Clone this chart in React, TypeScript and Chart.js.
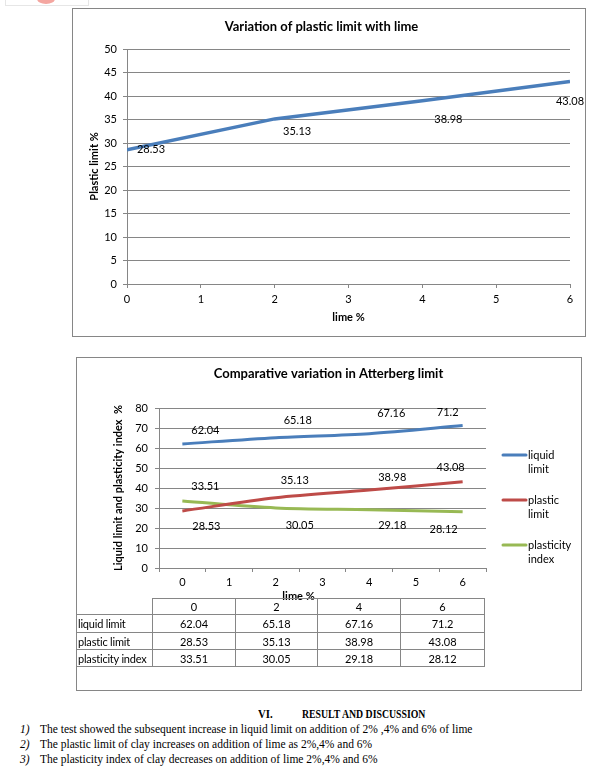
import React, { useEffect, useRef } from 'react';
import { Chart, registerables } from 'chart.js';
Chart.register(...registerables);

// ---------- data ----------
const limeLevels = [0, 2, 4, 6];
const plasticLimit = [28.53, 35.13, 38.98, 43.08];
const liquidLimit = [62.04, 65.18, 67.16, 71.2];
const plasticityIndex = [33.51, 30.05, 29.18, 28.12];
const limeCategories = ['0', '1', '2', '3', '4', '5', '6'];
const seriesNames = ['liquid limit', 'plastic limit', 'plasticity index'];

const chart1Title = 'Variation of plastic limit with lime';
const chart1YTitle = 'Plastic limit %';
const chart2Title = 'Comparative variation in Atterberg limit';
const chart2YTitle = 'Liquid limit and plasticity index  %';
const xTitle = 'lime %';

const discussionHeading = ['VI.', 'RESULT AND DISCUSSION'];
const discussionItems = [
  'The test showed the subsequent increase in liquid limit on addition of 2% ,4% and 6% of lime',
  'The plastic limit of clay increases on addition of lime as 2%,4% and 6%',
  'The plasticity index of clay decreases on addition of lime 2%,4% and 6%',
];

// ---------- styles ----------
const FONT = 'Lato, "Open Sans", sans-serif';
const GRID = '#868686';
const BLUE = '#4A7EBB';
const RED = '#BE4B48';
const GREEN = '#98B954';

const pointLabelPlugin = {
  id: 'pointLabels',
  afterDatasetsDraw(chart: any, _args: any, opts: any) {
    const ctx = chart.ctx;
    ctx.save();
    ctx.font = `11px ${FONT}`;
    ctx.fillStyle = '#000';
    ctx.textAlign = 'center';
    ctx.textBaseline = 'middle';
    chart.data.datasets.forEach((ds: any, di: number) => {
      const meta = chart.getDatasetMeta(di);
      const offs = (opts.offsets || [])[di] || [];
      meta.data.forEach((pt: any, i: number) => {
        const raw = ds.data[i];
        const val = typeof raw === 'object' ? raw.y : raw;
        const [dx, dy] = offs[i] || [0, 0];
        ctx.fillText(String(val), pt.x + dx, pt.y + dy);
      });
    });
    ctx.restore();
  },
};

const sideLegendPlugin = {
  id: 'sideLegend',
  afterDraw(chart: any, _args: any, opts: any) {
    if (!opts || !opts.enabled) return;
    const { ctx, chartArea } = chart;
    ctx.save();
    ctx.font = `11px ${FONT}`;
    ctx.textAlign = 'left';
    ctx.textBaseline = 'middle';
    chart.data.datasets.forEach((ds: any, i: number) => {
      const y = chartArea.top + opts.first + i * opts.spacing;
      ctx.strokeStyle = ds.borderColor;
      ctx.lineWidth = 3;
      ctx.lineCap = 'round';
      ctx.beginPath();
      ctx.moveTo(chartArea.right + opts.lineStart, y);
      ctx.lineTo(chartArea.right + opts.lineEnd, y);
      ctx.stroke();
      ctx.fillStyle = '#000';
      const words = String(ds.label).split(' ');
      words.forEach((w: string, j: number) => {
        ctx.fillText(w, chartArea.right + opts.textX, y + j * opts.lineHeight);
      });
    });
    ctx.restore();
  },
};

const xTitlePlugin = {
  id: 'shiftedXTitle',
  afterDraw(chart: any, _args: any, opts: any) {
    if (!opts || !opts.text) return;
    const { ctx, chartArea } = chart;
    ctx.save();
    ctx.font = `bold 11px ${FONT}`;
    ctx.fillStyle = '#000';
    ctx.textAlign = 'center';
    ctx.textBaseline = 'middle';
    ctx.fillText(opts.text, (chartArea.left + chartArea.right) / 2 + opts.dx, chartArea.bottom + opts.dy);
    ctx.restore();
  },
};

const centeredTitlePlugin = {
  id: 'centeredTitle',
  afterDraw(chart: any, _args: any, opts: any) {
    if (!opts || !opts.text) return;
    const ctx = chart.ctx;
    ctx.save();
    ctx.font = `bold 13px ${FONT}`;
    ctx.fillStyle = '#000';
    ctx.textAlign = 'center';
    ctx.textBaseline = 'middle';
    ctx.fillText(opts.text, chart.width / 2 + opts.dx, opts.y);
    ctx.restore();
  },
};

function PlasticChart() {
  const ref = useRef<HTMLCanvasElement | null>(null);
  useEffect(() => {
    if (!ref.current) return;
    const chart = new Chart(ref.current, {
      type: 'line',
      data: {
        datasets: [
          {
            label: 'plastic limit',
            data: limeLevels.map((x, i) => ({ x, y: plasticLimit[i] })),
            borderColor: BLUE,
            borderWidth: 3.5,
            pointRadius: 0,
            tension: 0,
          },
        ],
      },
      options: {
        responsive: false,
        animation: false,
        layout: { padding: { left: 0, right: 17, top: 0, bottom: 0 } },
        plugins: {
          legend: { display: false },
          tooltip: { enabled: false },
          title: {
            display: true,
            text: chart1Title,
            color: '#000',
            font: { family: FONT, size: 13, weight: 'bold' },
            padding: { top: 10.2, bottom: 14.2 },
          },
          pointLabels: { offsets: [[[24, 0], [22.5, 13], [26, 19], [0, 19.5]]] },
        } as any,
        scales: {
          x: {
            type: 'linear',
            min: 0,
            max: 6,
            ticks: { stepSize: 1, color: '#000', font: { family: FONT, size: 11 }, padding: 5 },
            grid: { drawOnChartArea: false, tickLength: 4, color: GRID },
            border: { color: GRID },
            title: {
              display: true,
              text: xTitle,
              color: '#000',
              font: { family: FONT, size: 11, weight: 'bold' },
              padding: { top: 0, bottom: 14.4 },
            },
            afterFit: (s: any) => { s.height = 54; },
          },
          y: {
            min: 0,
            max: 50,
            ticks: { stepSize: 5, color: '#000', font: { family: FONT, size: 11 }, padding: 6 },
            grid: { color: GRID, tickLength: 4 },
            border: { color: GRID },
            title: {
              display: true,
              text: chart1YTitle,
              color: '#000',
              font: { family: FONT, size: 11, weight: 'bold' },
              padding: { top: 14.4, bottom: 0 },
            },
            afterFit: (s: any) => { s.width = 54; },
          },
        },
      } as any,
      plugins: [pointLabelPlugin],
    });
    return () => chart.destroy();
  }, []);
  return <canvas ref={ref} width={514} height={329} style={{ position: 'absolute', left: 0, top: 0 }} />;
}

function AtterbergChart() {
  const ref = useRef<HTMLCanvasElement | null>(null);
  useEffect(() => {
    if (!ref.current) return;
    const toPoints = (arr: number[]) => limeLevels.map((x, i) => ({ x: String(x), y: arr[i] }));
    const chart = new Chart(ref.current, {
      type: 'line',
      data: {
        labels: limeCategories,
        datasets: [
          { label: seriesNames[0], data: toPoints(liquidLimit), borderColor: BLUE, borderWidth: 3, pointRadius: 0, tension: 0.3 },
          { label: seriesNames[1], data: toPoints(plasticLimit), borderColor: RED, borderWidth: 3, pointRadius: 0, tension: 0.3 },
          { label: seriesNames[2], data: toPoints(plasticityIndex), borderColor: GREEN, borderWidth: 3, pointRadius: 0, tension: 0.3 },
        ],
      },
      options: {
        responsive: false,
        animation: false,
        layout: { padding: { left: 0, right: 97, top: 50, bottom: 0 } },
        plugins: {
          legend: { display: false },
          tooltip: { enabled: false },
          title: { display: false },
          centeredTitle: { text: chart2Title, dx: -1.5, y: 16 },
          pointLabels: {
            offsets: [
              [[23, -13], [22, -17], [22, -20], [-15, -13]],
              [[24, 16], [19, -17], [23, -13], [-12, -14]],
              [[23, -15], [24, 18], [23, 16], [-19, 18]],
            ],
          },
          sideLegend: { enabled: true, first: 47, spacing: 45, lineStart: 17, lineEnd: 40, textX: 42, lineHeight: 14 },
          shiftedXTitle: { text: xTitle, dx: -24, dy: 28 },
        } as any,
        scales: {
          x: {
            type: 'category',
            offset: true,
            ticks: { color: '#000', font: { family: FONT, size: 11 }, padding: 4 },
            grid: { offset: true, drawOnChartArea: false, tickLength: 4, color: GRID },
            border: { color: GRID },
            afterFit: (s: any) => { s.height = 123; },
          },
          y: {
            min: 0,
            max: 80,
            ticks: { stepSize: 10, color: '#000', font: { family: FONT, size: 11 }, padding: 7 },
            grid: { color: GRID, tickLength: 4 },
            border: { color: GRID },
            title: {
              display: true,
              text: chart2YTitle,
              color: '#000',
              font: { family: FONT, size: 11, weight: 'bold' },
              padding: { top: 34.4, bottom: 0 },
            },
            afterFit: (s: any) => { s.width = 82; },
          },
        },
      } as any,
      plugins: [pointLabelPlugin, sideLegendPlugin, xTitlePlugin, centeredTitlePlugin],
    });
    return () => chart.destroy();
  }, []);
  return <canvas ref={ref} width={506} height={333} style={{ position: 'absolute', left: 0, top: 0 }} />;
}

const cellBorder = `1px solid ${GRID}`;

function DataTable() {
  const rows = [liquidLimit, plasticLimit, plasticityIndex];
  const colWidths = [76, 83, 82, 83, 84];
  const rowHeights = [16, 18, 17, 17];
  const td: React.CSSProperties = { border: cellBorder, padding: 0, textAlign: 'center', whiteSpace: 'nowrap' };
  return (
    <table
      style={{
        position: 'absolute', left: 76, top: 598, borderCollapse: 'collapse', tableLayout: 'fixed',
        fontFamily: FONT, fontSize: 11, color: '#000', lineHeight: '13px',
      }}
    >
      <colgroup>
        {colWidths.map((w, i) => <col key={i} style={{ width: w }} />)}
      </colgroup>
      <tbody>
        <tr style={{ height: rowHeights[0] }}>
          <td style={{ border: 'none', padding: 0 }} />
          {limeLevels.map((l) => <td key={l} style={td}>{l}</td>)}
        </tr>
        {rows.map((r, ri) => (
          <tr key={ri} style={{ height: rowHeights[ri + 1] }}>
            <td style={{ ...td, textAlign: 'left', paddingLeft: 1, letterSpacing: -0.2 }}>{seriesNames[ri]}</td>
            {r.map((v, i) => <td key={i} style={td}>{v}</td>)}
          </tr>
        ))}
      </tbody>
    </table>
  );
}

export default function App() {
  return (
    <div style={{ position: 'absolute', left: 0, top: 0, width: 616, height: 781, background: '#fff', overflow: 'hidden' }}>
      {/* cropped artefact at top-left */}
      <div style={{ position: 'absolute', left: 5, top: -6, width: 82, height: 10, border: '1px solid #e6e6e6' }} />
      <div style={{ position: 'absolute', left: 37, top: -6, width: 18, height: 10, borderRadius: '50%', background: '#f4a6a0' }} />

      <div style={{ position: 'absolute', left: 72, top: 8, width: 514, height: 329, border: `1px solid ${GRID}`, boxSizing: 'border-box' }}>
        <PlasticChart />
      </div>

      <div style={{ position: 'absolute', left: 76, top: 357, width: 506, height: 334, border: `1px solid ${GRID}`, boxSizing: 'border-box' }}>
        <AtterbergChart />
      </div>
      <DataTable />

      <div style={{ position: 'absolute', left: 0, top: 707, width: 616, fontFamily: '"Liberation Serif", serif', fontSize: 12, color: '#000' }}>
        <div style={{ position: 'absolute', left: 258, top: 0, fontWeight: 'bold', transform: 'scaleX(0.9)', transformOrigin: 'left' }}>{discussionHeading[0]}</div>
        <div style={{ position: 'absolute', left: 302, top: 0, fontWeight: 'bold', whiteSpace: 'nowrap', transform: 'scaleX(0.815)', transformOrigin: 'left' }}>{discussionHeading[1]}</div>
        {discussionItems.map((t, i) => (
          <div key={i} style={{ position: 'absolute', left: 0, top: 16 + i * 15, whiteSpace: 'nowrap', fontSize: 11.5 }}>
            <span style={{ position: 'absolute', left: 20, fontStyle: 'italic' }}>{`${i + 1})`}</span>
            <span style={{ position: 'absolute', left: 40 }}>{t}</span>
          </div>
        ))}
      </div>
    </div>
  );
}
